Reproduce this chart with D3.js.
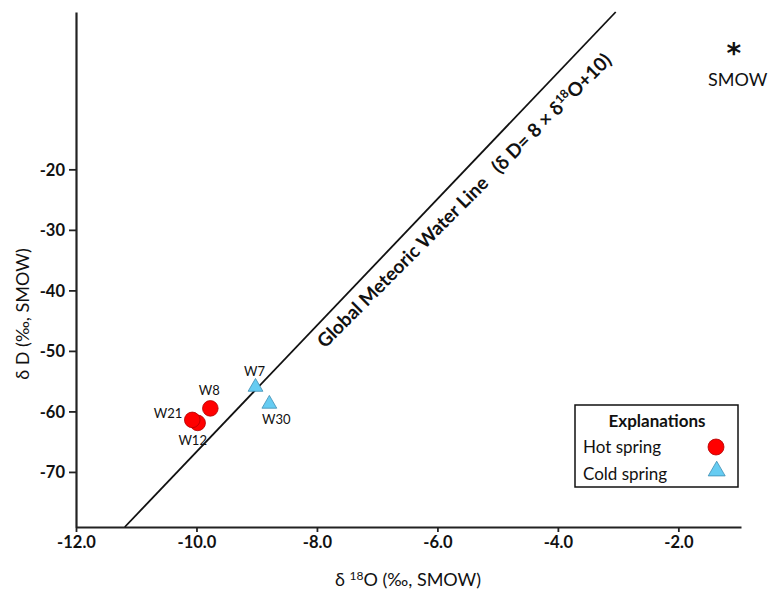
<!DOCTYPE html>
<html>
<head>
<meta charset="utf-8">
<script src="https://cdn.jsdelivr.net/npm/d3@7"></script>
<style>
  body { margin: 0; background: #fff; }
  text { font-family: Lato, "Open Sans", sans-serif; fill: #111; }
</style>
</head>
<body>
<script>
// chart values
var sampleIds  = ["W12", "W21", "W8", "W7", "W30"];
var sampleType = ["hot", "hot", "hot", "cold", "cold"];
var d18O = [-9.98, -10.07, -9.77, -9.02, -8.79];
var dD   = [-61.9, -61.4, -59.5, -55.8, -58.6];

// global meteoric water line as drawn (end points)
var gmwlO = [-11.19, -3.04];
var gmwlD = [-79.1, 6.0];

// SMOW reference point
var smowO = -1.08;
var smowD = 0;

var xTicks = [-12, -10, -8, -6, -4, -2];
var xTickLabels = ["-12.0", "-10.0", "-8.0", "-6.0", "-4.0", "-2.0"];
var yTicks = [-20, -30, -40, -50, -60, -70];
var yTickLabels = ["-20", "-30", "-40", "-50", "-60", "-70"];

var legendNames = ["Hot spring", "Cold spring"];
var legendTypes = ["hot", "cold"];

var width = 775, height = 591;
var margin = {top: 12, right: 34, bottom: 64, left: 76};

var svg = d3.select("body").append("svg")
  .attr("width", width)
  .attr("height", height);

var x = d3.scaleLinear()
  .domain([-12, -0.96])
  .range([margin.left, width - margin.right]);

var y = d3.scaleLinear()
  .domain([-79.1, 6.0])
  .range([height - margin.bottom, margin.top]);

var colors = {hot: "#ff0000", cold: "#66ccf2"};
var strokes = {hot: "#b00000", cold: "#3d8db3"};

// axes
var xAxis = svg.append("g")
  .attr("transform", "translate(0," + (height - margin.bottom) + ")")
  .call(d3.axisBottom(x).tickValues(xTicks)
    .tickFormat(function(d, i) { return xTickLabels[i]; })
    .tickSize(5).tickSizeOuter(0).tickPadding(4));

var yAxis = svg.append("g")
  .attr("transform", "translate(" + margin.left + ",0)")
  .call(d3.axisLeft(y).tickValues(yTicks)
    .tickFormat(function(d, i) { return yTickLabels[i]; })
    .tickSize(7).tickSizeOuter(0).tickPadding(4));

svg.selectAll(".domain").attr("stroke", "#222").attr("stroke-width", 2.2);
svg.selectAll(".tick line").attr("stroke", "#222").attr("stroke-width", 1.8);
svg.selectAll(".tick text")
  .style("font-size", "16.5px")
  .style("font-weight", "bold")
  .attr("fill", "#111");
yAxis.selectAll(".tick text").attr("dy", "0.36em");

// meteoric water line
var p1 = [x(gmwlO[0]), y(gmwlD[0])];
var p2 = [x(gmwlO[1]), y(gmwlD[1])];
svg.append("line")
  .attr("x1", p1[0]).attr("y1", p1[1])
  .attr("x2", p2[0]).attr("y2", p2[1])
  .attr("stroke", "#111")
  .attr("stroke-width", 1.8);

// label along the line
var len = Math.hypot(p2[0] - p1[0], p2[1] - p1[1]);
var ux = (p2[0] - p1[0]) / len, uy = (p2[1] - p1[1]) / len;
var t = 0.661 * len, off = 27;
var lx = p1[0] + ux * t - uy * off;
var ly = p1[1] + uy * t + ux * off;
var lineLabel = svg.append("text")
  .attr("transform", "translate(" + lx + "," + ly + ") rotate(-45)")
  .attr("text-anchor", "middle")
  .style("font-size", "19px")
  .style("font-weight", "bold")
  .style("white-space", "pre");
lineLabel.append("tspan").text("Global Meteoric Water Line   (\u03b4 D= 8 \u00d7 \u03b4");
lineLabel.append("tspan").attr("dy", -7).style("font-size", "12px").text("18");
lineLabel.append("tspan").attr("dy", 7).text("O+10)");

// samples
var triangle = d3.symbol().type(d3.symbolTriangle);
var pts = svg.append("g");
sampleIds.forEach(function(id, i) {
  var cx = x(d18O[i]), cy = y(dD[i]);
  if (sampleType[i] == "hot") {
    pts.append("circle")
      .attr("cx", cx).attr("cy", cy).attr("r", 7.8)
      .attr("fill", colors.hot).attr("stroke", strokes.hot).attr("stroke-width", 0.8);
  } else {
    pts.append("path")
      .attr("d", triangle.size(95)())
      .attr("transform", "translate(" + cx + "," + (cy + 1) + ")")
      .attr("fill", colors.cold).attr("stroke", strokes.cold).attr("stroke-width", 0.8);
  }
});

// sample labels (offsets in pixels from the mark)
var labelOff = {W8: [-1, -13, "middle"], W21: [-10, -2, "end"], W12: [-5, 22, "middle"],
                W7: [-1, -10, "middle"], W30: [7, 21, "middle"]};
sampleIds.forEach(function(id, i) {
  var o = labelOff[id];
  svg.append("text")
    .attr("x", x(d18O[i]) + o[0])
    .attr("y", y(dD[i]) + o[1])
    .attr("text-anchor", o[2])
    .style("font-size", "13px")
    .text(id);
});

// SMOW
svg.append("text")
  .attr("x", x(smowO)).attr("y", y(smowD) + 15)
  .attr("text-anchor", "middle")
  .style("font-family", "'DejaVu Sans', sans-serif")
  .style("font-size", "28px")
  .style("font-weight", "bold")
  .text("*");
svg.append("text")
  .attr("x", x(smowO) + 4).attr("y", y(smowD) + 38)
  .attr("text-anchor", "middle")
  .style("font-size", "18px")
  .text("SMOW");

// axis titles
var xt = svg.append("text")
  .attr("x", 408).attr("y", 586)
  .attr("text-anchor", "middle")
  .style("font-size", "18px");
xt.append("tspan").text("\u03b4 ");
xt.append("tspan").attr("dy", -6).style("font-size", "12px").text("18");
xt.append("tspan").attr("dy", 6).text("O (\u2030, SMOW)");

svg.append("text")
  .attr("transform", "translate(29,314) rotate(-90)")
  .attr("text-anchor", "middle")
  .style("font-size", "18px")
  .text("\u03b4 D (\u2030, SMOW)");

// legend
var lg = svg.append("g").attr("transform", "translate(575,405)");
lg.append("rect")
  .attr("width", 163).attr("height", 82)
  .attr("fill", "#fff").attr("stroke", "#111").attr("stroke-width", 1.5);
lg.append("text")
  .attr("x", 82).attr("y", 22)
  .attr("text-anchor", "middle")
  .style("font-size", "17px").style("font-weight", "bold")
  .text("Explanations");
legendNames.forEach(function(name, i) {
  lg.append("text")
    .attr("x", 8).attr("y", 48 + i * 27)
    .style("font-size", "17px")
    .text(name);
  if (legendTypes[i] == "hot") {
    lg.append("circle")
      .attr("cx", 141).attr("cy", 42 + i * 27).attr("r", 8)
      .attr("fill", colors.hot).attr("stroke", strokes.hot).attr("stroke-width", 0.8);
  } else {
    lg.append("path")
      .attr("d", triangle.size(125)())
      .attr("transform", "translate(141.7," + (39 + i * 27) + ")")
      .attr("fill", colors.cold).attr("stroke", strokes.cold).attr("stroke-width", 0.8);
  }
});
</script>
</body>
</html>
